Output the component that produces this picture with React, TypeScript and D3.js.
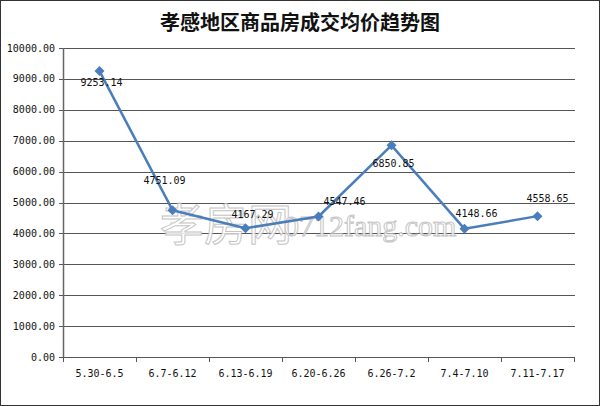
import React from "react";
import * as d3 from "d3";

const categories = ["5.30-6.5", "6.7-6.12", "6.13-6.19", "6.20-6.26", "6.26-7.2", "7.4-7.10", "7.11-7.17"];
const prices = [9253.14, 4751.09, 4167.29, 4547.46, 6850.85, 4148.66, 4558.65];
const yTicks = [0, 1000, 2000, 3000, 4000, 5000, 6000, 7000, 8000, 9000, 10000];
const title = "孝感地区商品房成交均价趋势图";
// label offsets (dx, dy) relative to point, in px
const labelOffsets: [number, number][] = [
  [2, 11], [-8, -30], [7, -14], [26, -15], [2, 18], [12, -15], [10, -18],
];

const W = 600, H = 406;
const left = 63, right = 574, top = 48, bottom = 357;

export default function App() {
  const x = d3.scaleBand<string>().domain(categories).range([left, right]);
  const y = d3.scaleLinear().domain([0, 10000]).range([bottom, top]);
  const cx = (c: string) => (x(c) as number) + x.bandwidth() / 2;
  const line = d3.line<number>().x((_, i) => cx(categories[i])).y((d) => y(d));
  const mono = "'DejaVu Sans Mono', 'Liberation Mono', monospace";
  const fmt = d3.format(".2f");
  return (
    <svg width={W} height={H} style={{ position: "absolute", left: 0, top: 0, background: "#fff" }}>
      <rect x={0.5} y={0.5} width={W - 1} height={H - 1} fill="#fff" stroke="#333" />
      <text x={300} y={30} textAnchor="middle" fontFamily="'Noto Sans CJK SC', sans-serif" fontWeight="bold" fontSize={20} fill="#111">{title}</text>
      {yTicks.map((t) => (
        <g key={t}>
          <line x1={59} x2={right + 1} y1={Math.round(y(t)) + 0.5} y2={Math.round(y(t)) + 0.5} stroke="#555" strokeWidth={1} />
          <text x={55} y={y(t)} dy="0.35em" textAnchor="end" fontFamily={mono} fontSize={10} fill="#111">{fmt(t)}</text>
        </g>
      ))}
      <line x1={left + 0.5} x2={left + 0.5} y1={top} y2={bottom + 1} stroke="#666" strokeWidth={1.5} />
      {categories.concat(["__end"]).map((c, i) => {
        const xx = i < categories.length ? (x(c) as number) : right;
        return <line key={"t" + i} x1={Math.round(xx) + 0.5} x2={Math.round(xx) + 0.5} y1={bottom} y2={bottom + 5} stroke="#555" />;
      })}
      {categories.map((c) => (
        <text key={c} x={cx(c)} y={373} dy="0.35em" textAnchor="middle" fontFamily={mono} fontSize={10} fill="#111">{c}</text>
      ))}
      <g opacity={0.85}>
        <text x={160} y={241} fontFamily="'Noto Sans CJK SC', sans-serif" fontSize={44} fill="#fff" stroke="#bbb" strokeWidth={1}>孝房网</text>
        <text x={284} y={236} fontFamily="'Liberation Serif', serif" fontSize={30} fill="#fff" stroke="#bbb" strokeWidth={1}>0712fang.com</text>
      </g>
      <path d={line(prices) || ""} fill="none" stroke="#4a7ebb" strokeWidth={2.5} strokeLinejoin="round" />
      {prices.map((p, i) => {
        const px = cx(categories[i]), py = y(p);
        return <path key={i} d={`M${px},${py - 5}L${px + 5},${py}L${px},${py + 5}L${px - 5},${py}Z`} fill="#4a7ebb" />;
      })}
      {prices.map((p, i) => (
        <text key={"l" + i} x={cx(categories[i]) + labelOffsets[i][0]} y={y(p) + labelOffsets[i][1]} dy="0.35em" textAnchor="middle" fontFamily={mono} fontSize={10} fill="#111">{fmt(p)}</text>
      ))}
    </svg>
  );
}
